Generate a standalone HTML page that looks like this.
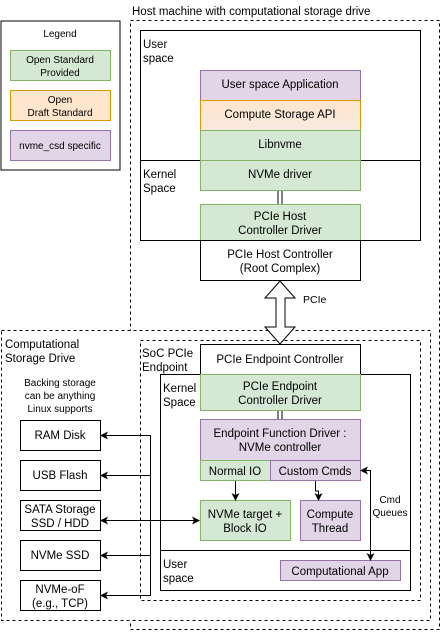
<!DOCTYPE html>
<html><head><meta charset="utf-8"><style>
html,body{margin:0;padding:0;background:#fff}
svg text{font-family:"Liberation Sans",Helvetica,Arial,sans-serif;fill:#000}
</style></head><body>
<svg width="441" height="631" viewBox="0 0 441 631" xmlns="http://www.w3.org/2000/svg">
<defs>
<linearGradient id="og" x1="0" y1="0" x2="0" y2="1"><stop offset="0" stop-color="#ffe6cc"/><stop offset="1" stop-color="#f8e9e0"/></linearGradient>
<marker id="ah" markerWidth="8" markerHeight="8" refX="7" refY="4" orient="auto" markerUnits="userSpaceOnUse"><path d="M0,0 L8,4 L0,8 L2,4 z" fill="#000"/></marker>
</defs>
<g font-size="11.5" text-anchor="middle">
<!-- Legend -->
<rect x="1" y="21" width="119" height="149" fill="#fff" stroke="#000"/>
<text x="60" y="37" font-size="10">Legend</text>
<rect x="10.5" y="50.5" width="100" height="30" fill="#d5e8d4" stroke="#82b366"/>
<text x="60" y="63" font-size="10">Open Standard</text><text x="60" y="76" font-size="10">Provided</text>
<rect x="10.5" y="90.5" width="100" height="30" fill="#ffe6cc" stroke="#d79b00"/>
<text x="60" y="103" font-size="10">Open</text><text x="60" y="116" font-size="10">Draft Standard</text>
<rect x="10.5" y="130.5" width="100" height="30" fill="#e1d5e7" stroke="#9673a6"/>
<text x="60" y="149" font-size="10">nvme_csd specific</text>

<!-- Host -->
<text x="132" y="15" text-anchor="start">Host machine with computational storage drive</text>
<rect x="130.5" y="20.5" width="309" height="609" fill="none" stroke="#000" stroke-dasharray="3,3"/>
<rect x="140.5" y="30.5" width="280" height="210" fill="#fff" stroke="#000"/>
<line x1="140" y1="160.5" x2="420" y2="160.5" stroke="#000"/>
<text x="143" y="48" text-anchor="start">User</text><text x="143" y="62" text-anchor="start">space</text>
<text x="143" y="178" text-anchor="start">Kernel</text><text x="143" y="192" text-anchor="start">Space</text>
<rect x="200.5" y="70.5" width="160" height="30" fill="#e1d5e7" stroke="#9673a6"/>
<text x="280" y="88">User space Application</text>
<rect x="200.5" y="100.5" width="160" height="30" fill="url(#og)" stroke="#d79b00"/>
<text x="280" y="118">Compute Storage API</text>
<rect x="200.5" y="130.5" width="160" height="30" fill="#d5e8d4" stroke="#82b366"/>
<text x="280" y="148">Libnvme</text>
<rect x="200.5" y="160.5" width="160" height="30" fill="#d5e8d4" stroke="#82b366"/>
<text x="280" y="178">NVMe driver</text>
<line x1="278" y1="191" x2="278" y2="204" stroke="#000"/><line x1="282" y1="191" x2="282" y2="204" stroke="#000"/>
<rect x="200.5" y="204.5" width="160" height="36" fill="#d5e8d4" stroke="#82b366"/>
<text x="280" y="220">PCIe Host</text><text x="280" y="234">Controller Driver</text>
<rect x="200.5" y="240.5" width="160" height="40" fill="#fff" stroke="#000"/>
<text x="280" y="258">PCIe Host Controller</text><text x="280" y="272">(Root Complex)</text>

<!-- CSD -->
<rect x="1.5" y="330.5" width="429" height="290" fill="#fff" stroke="#000" stroke-dasharray="3,3"/>
<text x="5" y="348" text-anchor="start">Computational</text><text x="5" y="362" text-anchor="start">Storage Drive</text>
<rect x="140.5" y="340.5" width="280" height="260" fill="none" stroke="#000" stroke-dasharray="3,3"/>
<text x="142" y="357" text-anchor="start">SoC PCIe</text><text x="142" y="371" text-anchor="start">Endpoint</text>

<!-- PCIe arrow -->
<path d="M280,281 L295,298 L285,298 L285,327 L295,327 L280,344 L265,327 L276,327 L276,298 L265,298 Z" fill="#fff" stroke="#000"/>
<text x="303" y="303" text-anchor="start" font-size="10.5">PCIe</text>

<rect x="200.5" y="344.5" width="160" height="30" fill="#fff" stroke="#000"/>
<text x="280" y="363">PCIe Endpoint Controller</text>
<rect x="160.5" y="374.5" width="250" height="216" fill="#fff" stroke="#000"/>
<line x1="160" y1="550.5" x2="410" y2="550.5" stroke="#000"/>
<text x="163" y="392" text-anchor="start">Kernel</text><text x="163" y="406" text-anchor="start">Space</text>
<text x="163" y="568" text-anchor="start">User</text><text x="163" y="582" text-anchor="start">space</text>
<rect x="200.5" y="374.5" width="160" height="36" fill="#d5e8d4" stroke="#82b366"/>
<text x="280" y="390">PCIe Endpoint</text><text x="280" y="404">Controller Driver</text>
<line x1="278" y1="411" x2="278" y2="419" stroke="#000"/><line x1="282" y1="411" x2="282" y2="419" stroke="#000"/>
<rect x="200.5" y="419.5" width="160" height="41" fill="#e1d5e7" stroke="#9673a6"/>
<text x="280" y="437">Endpoint Function Driver :</text><text x="280" y="451">NVMe controller</text>
<rect x="200.5" y="460.5" width="70" height="20" fill="#d5e8d4" stroke="#82b366"/>
<text x="235" y="475">Normal IO</text>
<rect x="270.5" y="460.5" width="90" height="20" fill="#e1d5e7" stroke="#9673a6"/>
<text x="315" y="475">Custom Cmds</text>
<rect x="200.5" y="500.5" width="90" height="40" fill="#d5e8d4" stroke="#82b366"/>
<text x="245" y="518">NVMe target +</text><text x="245" y="532">Block IO</text>
<rect x="300.5" y="500.5" width="60" height="40" fill="#e1d5e7" stroke="#9673a6"/>
<text x="330" y="518">Compute</text><text x="330" y="532">Thread</text>
<rect x="280.5" y="560.5" width="120" height="20" fill="#e1d5e7" stroke="#9673a6"/>
<text x="340" y="575">Computational App</text>

<g fill="none" stroke="#000">
<path d="M235.5,481 V500" marker-end="url(#ah)"/>
<path d="M315.5,481 V491 H318.5 V500" marker-end="url(#ah)"/>
<path d="M370.5,520 V470.5 H361" marker-end="url(#ah)"/>
<path d="M370.5,520 V560" marker-end="url(#ah)"/>
</g>
<text x="390" y="503" font-size="10">Cmd</text><text x="390" y="516" font-size="10">Queues</text>

<!-- Storage -->
<text x="60" y="386" font-size="10">Backing storage</text>
<text x="60" y="399" font-size="10">can be anything</text>
<text x="60" y="412" font-size="10">Linux supports</text>
<rect x="20.5" y="420.5" width="80" height="30" fill="#fff" stroke="#000"/><text x="60" y="439">RAM Disk</text>
<rect x="20.5" y="460.5" width="80" height="30" fill="#fff" stroke="#000"/><text x="60" y="479">USB Flash</text>
<rect x="20.5" y="500.5" width="80" height="30" fill="#fff" stroke="#000"/><text x="60" y="513">SATA Storage</text><text x="60" y="527">SSD / HDD</text>
<rect x="20.5" y="540.5" width="80" height="30" fill="#fff" stroke="#000"/><text x="60" y="559">NVMe SSD</text>
<rect x="20.5" y="580.5" width="80" height="30" fill="#fff" stroke="#000"/><text x="60" y="593">NVMe-oF</text><text x="60" y="607">(e.g., TCP)</text>
<g fill="none" stroke="#000">
<path d="M150.5,435 V596"/>
<path d="M150.5,435.5 H101" marker-end="url(#ah)"/>
<path d="M150.5,475.5 H101" marker-end="url(#ah)"/>
<path d="M150.5,520.5 H101" marker-end="url(#ah)"/>
<path d="M150.5,555.5 H101" marker-end="url(#ah)"/>
<path d="M150.5,595.5 H101" marker-end="url(#ah)"/>
<path d="M150.5,520.5 H199" marker-end="url(#ah)"/>
</g>
</g>
</svg>
</body></html>
